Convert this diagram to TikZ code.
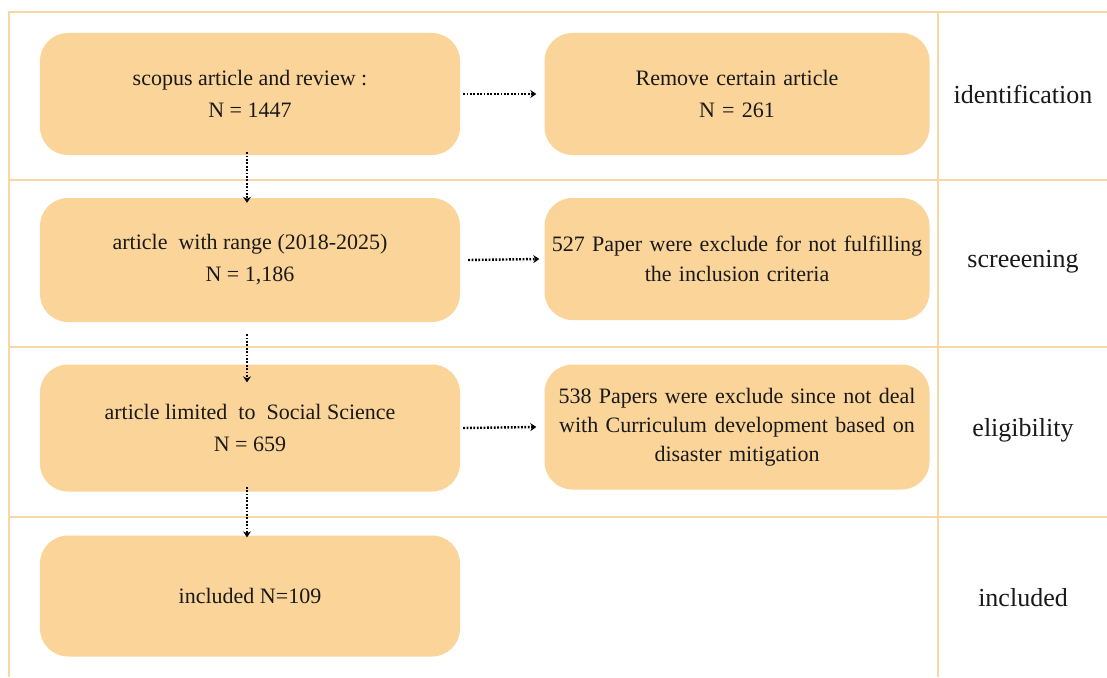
\documentclass[tikz,border=0pt]{standalone}
\usepackage{fontspec}
\setmainfont{Liberation Serif}
\usetikzlibrary{arrows.meta}
\definecolor{boxfill}{RGB}{250,212,152}
\definecolor{frameline}{RGB}{246,216,166}
\tikzset{
  stagebox/.style={rectangle, rounded corners=28pt, fill=boxfill, draw=none,
    align=center, font=\fontsize{22}{32}\selectfont, text=black!90},
  leftbox/.style={stagebox, minimum width=420pt},
  rightbox/.style={stagebox, minimum width=385pt, text width=371pt, inner xsep=7pt},
  phase/.style={font=\fontsize{26}{30}\selectfont, text=black!90},
  frame/.style={draw=frameline, line width=2.5pt},
  arr/.style={dash pattern=on 1.8pt off 1.6pt, line width=2.4pt, -{Stealth[length=6pt,width=8pt]}}
}
\begin{document}
\begin{tikzpicture}[x=1pt,y=-1pt]
\useasboundingbox (0,0) rectangle (1107,677);
\fill[white] (0,0) rectangle (1107,677);
% frame
\draw[frame] (9,677) -- (9,12) -- (1107,12);
\draw[frame] (9,180) -- (1107,180);
\draw[frame] (9,347) -- (1107,347);
\draw[frame] (9,517) -- (1107,517);
\draw[frame] (938,12) -- (938,677);
% left boxes
\node[leftbox, minimum height=122pt] (b1) at (250,94) {scopus article and review :\\N = 1447};
\node[leftbox, minimum height=124pt] (b2) at (250,260) {article\ \ with range (2018-2025)\\N = 1,186};
\node[leftbox, minimum height=127pt] (b3) at (250,428) {article limited\ \ to\ \ Social Science\\N = 659};
\node[leftbox, minimum height=121pt] (b4) at (250,596) {included N=109};
% right boxes
\node[rightbox, minimum height=122pt] (r1) at (737,94) {Remove certain article\\N = 261};
\node[rightbox, minimum height=122pt, font=\fontsize{22}{30}\selectfont] (r2) at (737,259) {527 Paper were exclude for not fulfilling\\the inclusion criteria};
\node[rightbox, minimum height=125pt, font=\fontsize{22}{29}\selectfont] (r3) at (737,427) {538 Papers were exclude since not deal\\with Curriculum development based on\\disaster mitigation};
% phase labels
\node[phase] (p1) at (1023,94) {identification};
\node[phase] (p2) at (1023,262) {screeening};
\node[phase] (p3) at (1023,430) {eligibility};
\node[phase] (p4) at (1023,598) {included};
% horizontal arrows
\draw[arr] ([xshift=3pt]b1.east) -- ([xshift=-8pt]r1.west);
\draw[arr] ([xshift=8pt]b2.east) -- ([xshift=-5pt]r2.west);
\draw[arr] ([xshift=3pt]b3.east) -- ([xshift=-8pt]r3.west);
% vertical arrows
\draw[arr] ([xshift=-3pt,yshift=3pt]b1.south) -- ([xshift=-3pt,yshift=-5pt]b2.north);
\draw[arr] ([xshift=-3pt,yshift=-12pt]b2.south) -- ([xshift=-3pt,yshift=-18pt]b3.north);
\draw[arr] ([xshift=-3pt,yshift=5pt]b3.south) -- ([xshift=-3pt,yshift=-2pt]b4.north);
\end{tikzpicture}
\end{document}
